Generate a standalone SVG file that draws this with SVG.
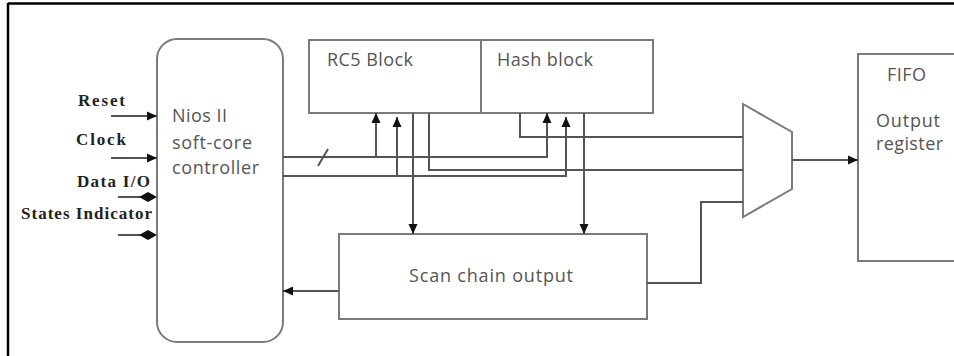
<svg xmlns="http://www.w3.org/2000/svg" width="954" height="356" viewBox="0 0 954 356">
  <style>
    .box { fill: #fff; stroke: #7a7a7a; stroke-width: 2; }
    .lbl { font-family: "Open Sans", "Noto Sans", sans-serif; font-size: 18px; fill: #555; }
    .pin { font-family: "Liberation Serif", serif; font-weight: bold; font-size: 17px; fill: #222; }
    .wire { fill: none; stroke: #555; stroke-width: 2; }
    .head { fill: #111; }
  </style>
  <defs>
    <marker id="arrow" markerUnits="userSpaceOnUse" markerWidth="10" markerHeight="10" viewBox="0 0 10 10" refX="10" refY="5" orient="auto">
      <path d="M0,0.5 L10,5 L0,9.5 Z" fill="#111"/>
    </marker>
  </defs>
  <rect width="954" height="356" fill="#fff"/>

  <!-- outer frame: top and left rules only -->
  <path d="M8,3.5 H954 M8,3 V356" fill="none" stroke="#000" stroke-width="2.5"/>

  <g id="nios">
    <rect class="box" x="157" y="39" width="126" height="303" rx="20" ry="20"/>
    <text class="lbl" x="172" y="122" textLength="55">Nios II</text>
    <text class="lbl" x="172" y="149" textLength="80">soft-core</text>
    <text class="lbl" x="172" y="174" textLength="87">controller</text>
  </g>

  <g id="rc5">
    <rect class="box" x="309" y="40" width="172" height="73"/>
    <text class="lbl" x="327" y="66" textLength="86">RC5 Block</text>
  </g>

  <g id="hash">
    <rect class="box" x="481" y="40" width="172" height="73"/>
    <text class="lbl" x="497" y="66" textLength="96">Hash block</text>
  </g>

  <g id="scan">
    <rect class="box" x="339" y="234" width="308" height="85"/>
    <text class="lbl" x="409" y="282" textLength="164">Scan chain output</text>
  </g>

  <g id="mux">
    <polygon class="box" points="743,104 792,132 792,189 743,217"/>
  </g>

  <g id="fifo">
    <rect class="box" x="858" y="54" width="110" height="207"/>
    <text class="lbl" x="887" y="81" textLength="39">FIFO</text>
    <text class="lbl" x="876" y="127" textLength="64">Output</text>
    <text class="lbl" x="876" y="150" textLength="67">register</text>
  </g>

  <g id="pins">
    <text class="pin" x="78" y="106" textLength="47">Reset</text>
    <text class="pin" x="76" y="145" textLength="50">Clock</text>
    <text class="pin" x="77" y="187" textLength="73">Data I/O</text>
    <text class="pin" x="21" y="219" textLength="131">States Indicator</text>
  </g>

  <g id="connectors">
    <!-- controller inputs -->
    <path class="wire" d="M111,116 H157" marker-end="url(#arrow)"/>
    <path class="wire" d="M111,158 H157" marker-end="url(#arrow)"/>
    <!-- bidirectional pins -->
    <path class="wire" d="M118,197 H141"/>
    <polygon class="head" points="139,197 148,192 148,202"/>
    <polygon class="head" points="157,197 148,192 148,202"/>
    <path class="wire" d="M118,235 H141"/>
    <polygon class="head" points="139,235 148,230 148,240"/>
    <polygon class="head" points="157,235 148,230 148,240"/>

    <!-- controller buses to the cipher blocks -->
    <path class="wire" d="M283,157 H547 V113" marker-end="url(#arrow)"/>
    <path class="wire" d="M318,166 L328,149"/>
    <path class="wire" d="M376,157 V113" marker-end="url(#arrow)"/>
    <path class="wire" d="M283,176 H566 V117" marker-end="url(#arrow)"/>
    <path class="wire" d="M397,176 V117" marker-end="url(#arrow)"/>

    <!-- block outputs -->
    <path class="wire" d="M413,113 V234" marker-end="url(#arrow)"/>
    <path class="wire" d="M429,113 V170 H743"/>
    <path class="wire" d="M520,113 V137 H743"/>
    <path class="wire" d="M584,113 V234" marker-end="url(#arrow)"/>

    <!-- scan chain feedback and mux feed -->
    <path class="wire" d="M339,291 H283" marker-end="url(#arrow)"/>
    <path class="wire" d="M647,283 H701 V202 H743"/>

    <!-- mux to output register -->
    <path class="wire" d="M792,160 H858" marker-end="url(#arrow)"/>
  </g>
</svg>
